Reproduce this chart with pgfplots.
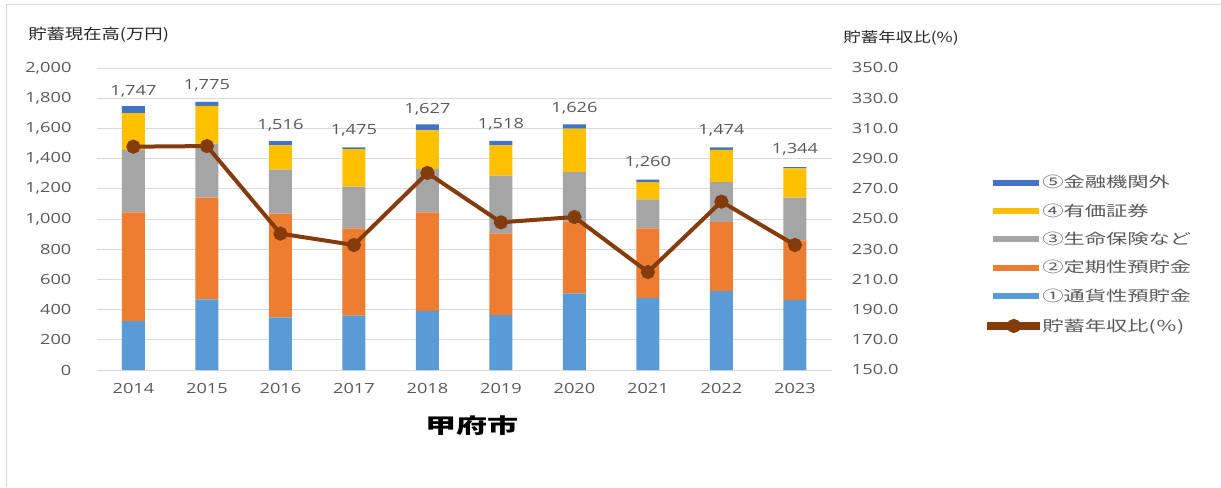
\documentclass[border=0pt]{standalone}
\usepackage{graphicx}
\usepackage{pgfplots}
\pgfplotsset{compat=1.18}
\usepackage{fontspec}
\setmainfont{Open Sans}
\newfontfamily\jp{Noto Sans CJK JP}

\definecolor{cA}{HTML}{5B9BD5}
\definecolor{cB}{HTML}{ED7D31}
\definecolor{cC}{HTML}{A5A5A5}
\definecolor{cD}{HTML}{FFC000}
\definecolor{cE}{HTML}{4472C4}
\definecolor{cL}{HTML}{843C0C}
\definecolor{gridc}{HTML}{D9D9D9}
\definecolor{tickc}{HTML}{595959}

% text in the reference is stretched sideways
\newcommand\nx[1]{\scalebox{1.3}[1]{#1}}
\newcommand\lx[1]{\scalebox{1.45}[1]{#1}}
\newcommand\tx[1]{\scalebox{1.25}[1]{#1}}

\pgfplotsset{
  common/.style={
    at={(72.5pt,87.75pt)}, anchor=south west,
    scale only axis, width=551.25pt, height=226.5pt,
    xmin=-0.5, xmax=9.5,
    /pgf/number format/assume math mode=true,
    tick style={draw=none}, major tick length=0pt,
    ticklabel style={font=\fontsize{10.5}{12}\selectfont, text=tickc},
  },
  barimg/.style={legend image code/.code={\fill[#1] (0,-0.9pt) rectangle (33.75pt,2.9pt);}},
}

\begin{document}
\begin{tikzpicture}
\useasboundingbox (0,0) rectangle (915.75pt,365.25pt);
\draw[gridc, line width=0.75pt] (4.5pt,0) -- (4.5pt,361.5pt) -- (915.75pt,361.5pt);

\begin{axis}[common,
  ybar stacked, bar width=17.25pt,
  ymin=0, ymax=2000, ytick={0,200,...,2000},
  xtick={0,...,9},
  xticklabels={\nx{2014},\nx{2015},\nx{2016},\nx{2017},\nx{2018},\nx{2019},\nx{2020},\nx{2021},\nx{2022},\nx{2023}},
  xticklabel style={anchor=north, inner sep=0pt, yshift=-9.75pt},
  yticklabel={\nx{\pgfmathprintnumber[fixed,precision=0,1000 sep={,}]{\tick}}},
  yticklabel style={anchor=east, inner sep=0pt, xshift=-18.75pt},
  axis x line*=bottom, axis y line*=left,
  y axis line style={draw=none},
  x axis line style={gridc, line width=0.75pt},
  ymajorgrids, grid style={gridc, line width=0.75pt},
  clip=false,
]
\addplot[fill=cA, draw=none] coordinates {(0,324) (1,468) (2,349) (3,360) (4,391) (5,364) (6,508) (7,477) (8,523) (9,464)};
\addplot[fill=cB, draw=none] coordinates {(0,720) (1,673) (2,686) (3,578) (4,653) (5,541) (6,474) (7,461) (8,457) (9,395)};
\addplot[fill=cC, draw=none] coordinates {(0,413) (1,358) (2,292) (3,276) (4,287) (5,382) (6,329) (7,192) (8,265) (9,282)};
\addplot[fill=cD, draw=none] coordinates {(0,245) (1,251) (2,161) (3,248) (4,256) (5,201) (6,287) (7,115) (8,212) (9,195)};
\addplot[fill=cE, draw=none,
  point meta=explicit,
  nodes near coords={\nx{\pgfmathprintnumber[fixed,precision=0,1000 sep={,}]{\pgfplotspointmeta}}},
  every node near coord/.append style={anchor=south, inner sep=0pt, yshift=9pt,
    font=\fontsize{10.5}{12}\selectfont, text=tickc}]
  coordinates {(0,45) [1747] (1,25) [1775] (2,28) [1516] (3,13) [1475] (4,40) [1627]
               (5,30) [1518] (6,28) [1626] (7,15) [1260] (8,17) [1474] (9,8) [1344]};
\end{axis}

\begin{axis}[common,
  ymin=150, ymax=350, ytick={150,170,...,350},
  axis x line=none, axis y line*=right,
  y axis line style={draw=none},
  yticklabel={\nx{\pgfmathprintnumber[fixed,fixed zerofill,precision=1]{\tick}}},
  yticklabel style={anchor=west, inner sep=0pt, xshift=15pt},
  legend cell align=left,
  legend style={at={(1.2113,0.6393)}, anchor=north west, draw=none, fill=none,
    inner sep=0pt, row sep=11.26pt,
    font=\jp\fontsize{11}{13}\selectfont, text=tickc,
    nodes={inner sep=0pt, text height=8pt, text depth=2pt},
    /tikz/every odd column/.append style={column sep=1.5pt}},
]
\addlegendimage{barimg=cE}
\addlegendentry{\lx{⑤金融機関外}}
\addlegendimage{barimg=cD}
\addlegendentry{\lx{④有価証券}}
\addlegendimage{barimg=cC}
\addlegendentry{\lx{③生命保険など}}
\addlegendimage{barimg=cB}
\addlegendentry{\lx{②定期性預貯金}}
\addlegendimage{barimg=cA}
\addlegendentry{\lx{①通貨性預貯金}}
\addplot[cL, line width=3pt, mark=*, mark size=3.75pt, mark options={fill=cL, draw=cL},
  legend image code/.code={\fill[cL] (-3pt,-0.5pt) rectangle (33.75pt,2.5pt);
                           \fill[cL] (15.4pt,1pt) circle (3.75pt);}]
  coordinates {(0,297.9) (1,298.3) (2,240.3) (3,232.8) (4,280.5) (5,247.8) (6,251.3) (7,214.9) (8,261.5) (9,232.8)};
\addlegendentry{\lx{貯蓄年収比(％)}}
\end{axis}

\node[anchor=west, inner sep=0pt, text=black!85] at (21pt,339pt)
  {\jp\fontsize{11}{13}\selectfont\tx{貯蓄現在高(万円)}};
\node[anchor=west, inner sep=0pt, text=black!85] at (632.25pt,336.75pt)
  {\jp\fontsize{10.5}{12}\selectfont\tx{貯蓄年収比(\%)}};
\node[inner sep=0pt] at (353.8pt,46pt)
  {\jp\bfseries\fontsize{15.5}{18}\selectfont\scalebox{1.5}[1]{甲府市}};
\end{tikzpicture}
\end{document}
